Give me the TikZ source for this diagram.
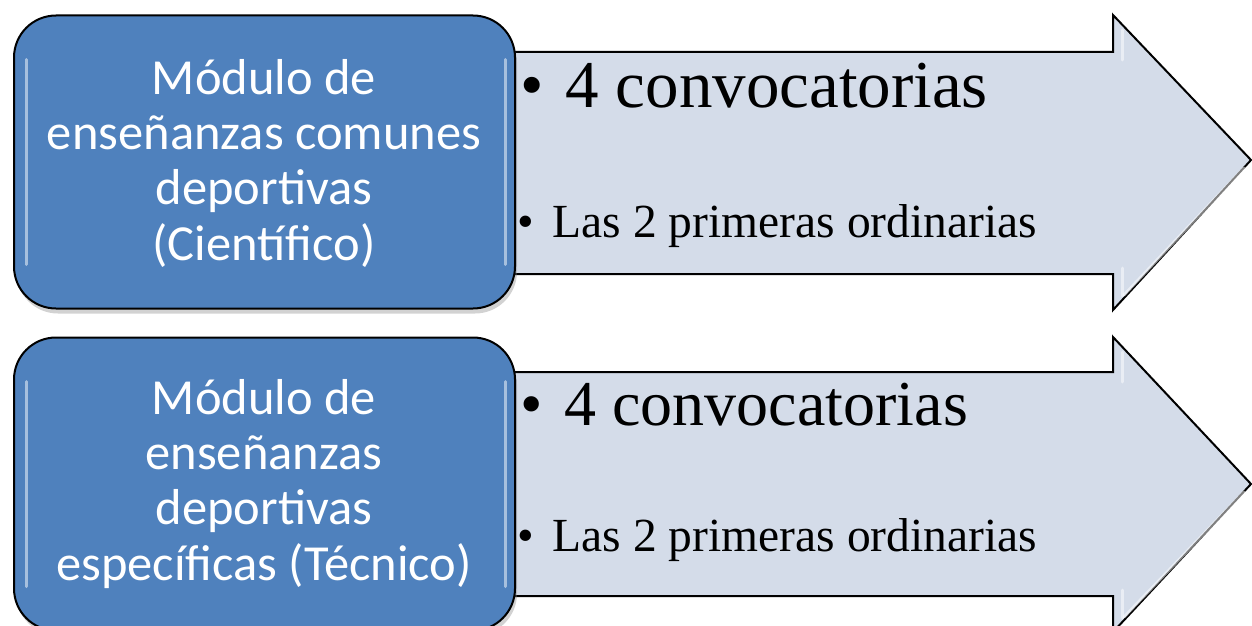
\documentclass[tikz,border=0pt]{standalone}
\usepackage{fontspec}
\setmainfont{Liberation Serif}
\newfontfamily\boxfont{Carlito}
\usetikzlibrary{shadows}
\definecolor{boxblue}{HTML}{4F81BD}
\definecolor{arrowfill}{HTML}{D4DCE9}
\begin{document}
\begin{tikzpicture}[x=1pt,y=-1pt]
\tikzset{
  modbox/.style={draw=black, line width=2pt, fill=boxblue, rounded corners=42pt,
     minimum width=501pt, minimum height=293pt, inner sep=0pt,
     drop shadow={shadow xshift=2pt, shadow yshift=-5pt, opacity=0.35}},
  modtext/.style={text=white, align=center, font=\boxfont\fontsize{50.5}{55.3}\selectfont, anchor=base},
  arrowshape/.style={draw=black, line width=2pt, fill=arrowfill, line join=miter},
  gloss/.style={draw=white, line width=3pt, opacity=0.5, line cap=round},
  bigitem/.style={anchor=base west, inner sep=0pt, font=\fontsize{67}{72}\selectfont},
  smallitem/.style={anchor=base west, inner sep=0pt, font=\fontsize{47.5}{52}\selectfont}
}
\useasboundingbox (0,0) rectangle (1252,626);
\fill[white] (0,0) rectangle (1252,626);

% ---------- Row 1 ----------
\draw[arrowshape] (505,52) -- (1113,52) -- (1113,15) -- (1251,160) -- (1113,310) -- (1113,274) -- (505,274) -- cycle;
\draw[gloss] (1122,30) -- (1122,60);
\draw[gloss] (1122,296) -- (1122,268) ;
\draw[gloss] (1124,295) -- (1244,168);
\node[modbox] (box1) at (264.5,162) {};
\draw[gloss] ([xshift=13pt,yshift=-45pt]box1.north west) -- ([xshift=13pt,yshift=45pt]box1.south west);
\draw[gloss] ([xshift=-11pt,yshift=-45pt]box1.north east) -- ([xshift=-11pt,yshift=45pt]box1.south east);
\node[modtext] (t1) at (264,260) {Módulo de\\enseñanzas comunes\\deportivas\\(Científico)};
\node[bigitem] (a1) at (520,107) {•\hspace{22pt}4 convocatorias};
\node[smallitem] (b1) at (517,237) {•\hspace{19pt}Las 2 primeras ordinarias};

% ---------- Row 2 ----------
\draw[arrowshape] (505,372) -- (1113,372) -- (1113,337) -- (1251,484) -- (1113,632) -- (1113,596) -- (505,596) -- cycle;
\draw[gloss] (1122,352) -- (1122,382);
\draw[gloss] (1122,618) -- (1122,590);
\draw[gloss] (1124,617) -- (1244,492);
\node[modbox] (box2) at (264.5,484) {};
\draw[gloss] ([xshift=13pt,yshift=-45pt]box2.north west) -- ([xshift=13pt,yshift=45pt]box2.south west);
\draw[gloss] ([xshift=-11pt,yshift=-45pt]box2.north east) -- ([xshift=-11pt,yshift=45pt]box2.south east);
\node[modtext] (t2) at (264,580) {Módulo de\\enseñanzas\\deportivas\\específicas (Técnico)};
\node[bigitem, font=\fontsize{64}{70}\selectfont] (a2) at (520,425) {•\hspace{22pt}4 convocatorias};
\node[smallitem] (b2) at (517,551) {•\hspace{19pt}Las 2 primeras ordinarias};
\end{tikzpicture}
\end{document}
